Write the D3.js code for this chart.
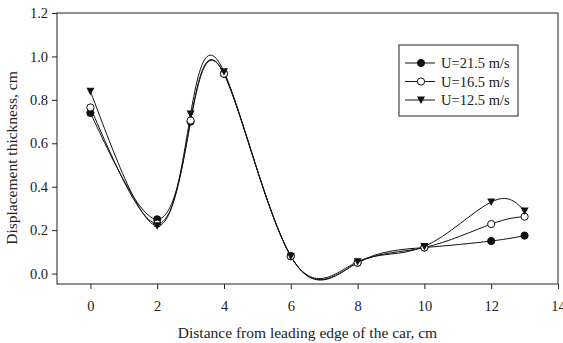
<!DOCTYPE html>
<html>
<head>
<meta charset="utf-8">
<script src="https://cdn.jsdelivr.net/npm/d3@7"></script>
<style>
  body { margin: 0; background: #fff; }
  svg text { font-family: "Liberation Serif", "Times New Roman", serif; fill: #222; }
</style>
</head>
<body>
<div id="chart"></div>
<script>
// distance from leading edge (cm)
const xs = [0, 2, 3, 4, 6, 8, 10, 12, 13];
const u215 = [0.74, 0.25, 0.70, 0.92, 0.08, 0.05, 0.12, 0.15, 0.175];
const u165 = [0.765, 0.23, 0.705, 0.92, 0.08, 0.05, 0.12, 0.228, 0.262];
const u125 = [0.84, 0.22, 0.735, 0.93, 0.08, 0.055, 0.125, 0.33, 0.288];
const seriesNames = ['U=21.5 m/s', 'U=16.5 m/s', 'U=12.5 m/s'];
const xTicks = [0, 2, 4, 6, 8, 10, 12, 14];
const yTicks = [0.0, 0.2, 0.4, 0.6, 0.8, 1.0, 1.2];

const W = 563, H = 343;
const m = {left: 57, top: 13, right: 5, bottom: 59};

const svg = d3.select('#chart').append('svg')
    .attr('width', W).attr('height', H);

const x = d3.scaleLinear().domain([-1, 14]).range([m.left, W - m.right]);
const y = d3.scaleLinear().domain([-0.048, 1.2]).range([H - m.bottom, m.top]);

// frame
svg.append('rect')
    .attr('x', x(-1)).attr('y', y(1.2))
    .attr('width', x(14) - x(-1)).attr('height', y(-0.048) - y(1.2))
    .attr('fill', 'none').attr('stroke', '#222').attr('stroke-width', 1);

const xAxis = svg.append('g')
    .attr('transform', `translate(0,${y(-0.048)})`)
    .call(d3.axisBottom(x).tickValues(xTicks).tickSize(5).tickPadding(12).tickFormat(d3.format('d')));
const yAxis = svg.append('g')
    .attr('transform', `translate(${x(-1)},0)`)
    .call(d3.axisLeft(y).tickValues(yTicks).tickSize(5).tickPadding(4).tickFormat(d3.format('.1f')));
[xAxis, yAxis].forEach(a => {
    a.select('.domain').remove();
    a.selectAll('line').attr('stroke', '#222');
    a.selectAll('text').attr('font-size', 14.5).attr('font-family', '"Liberation Serif", serif').attr('fill', '#222');
});

svg.append('text')
    .attr('x', (x(-1) + x(14)) / 2).attr('y', 338)
    .attr('text-anchor', 'middle').attr('font-size', 15.5)
    .text('Distance from leading edge of the car, cm');
svg.append('text')
    .attr('transform', `translate(17,158) rotate(-90)`)
    .attr('text-anchor', 'middle').attr('font-size', 15.5)
    .text('Displacement thickness, cm');

const series = [
    {name: seriesNames[0], values: u215, marker: 'filled'},
    {name: seriesNames[1], values: u165, marker: 'open'},
    {name: seriesNames[2], values: u125, marker: 'tri'}
];

const line = d3.line()
    .x(d => x(d[0])).y(d => y(d[1]))
    .curve(d3.curveNatural);

function drawMarker(g, kind, cx, cy) {
    if (kind === 'tri') {
        g.append('path')
            .attr('d', `M${cx - 4},${cy - 3.5} L${cx + 4},${cy - 3.5} L${cx},${cy + 4} Z`)
            .attr('fill', '#111');
    } else {
        g.append('circle')
            .attr('cx', cx).attr('cy', cy).attr('r', 3.6)
            .attr('fill', kind === 'filled' ? '#111' : '#fff')
            .attr('stroke', '#111').attr('stroke-width', 1);
    }
}

const plot = svg.append('g');
series.forEach(s => {
    const pts = xs.map((v, i) => [v, s.values[i]]);
    plot.append('path')
        .attr('d', line(pts))
        .attr('fill', 'none').attr('stroke', '#111').attr('stroke-width', 1);
});
series.forEach(s => {
    const g = plot.append('g');
    xs.forEach((v, i) => drawMarker(g, s.marker, x(v), y(s.values[i])));
});

// legend
const lg = svg.append('g');
lg.append('rect')
    .attr('x', 399).attr('y', 45).attr('width', 119).attr('height', 71)
    .attr('fill', '#fff').attr('stroke', '#222');
series.forEach((s, i) => {
    const ly = 63 + i * 18.5;
    lg.append('line').attr('x1', 405).attr('x2', 435).attr('y1', ly).attr('y2', ly)
        .attr('stroke', '#111');
    drawMarker(lg, s.marker, 421, ly);
    lg.append('text').attr('x', 441).attr('y', ly + 5)
        .attr('font-size', 14.5).text(s.name);
});
</script>
</body>
</html>
